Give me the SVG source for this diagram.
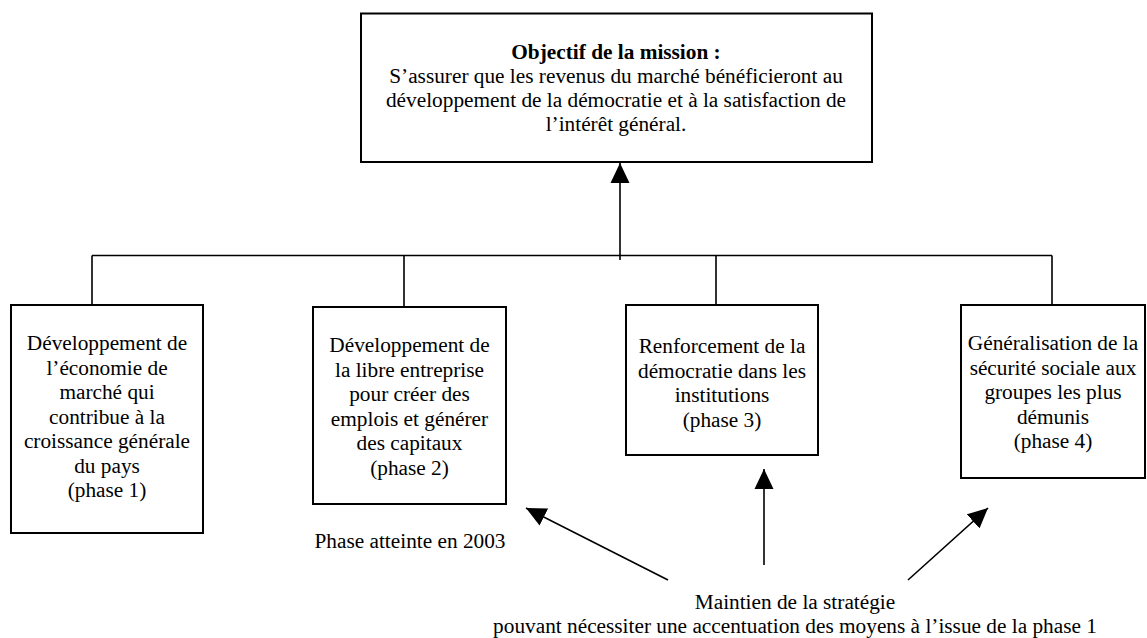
<svg xmlns="http://www.w3.org/2000/svg" width="1147" height="638" viewBox="0 0 1147 638">
<style>
.box{fill:#fff;stroke:#000;stroke-width:2}
.t{font-family:"Liberation Serif","Times New Roman",serif;font-size:21.3px;fill:#000;text-anchor:middle}
.b{font-weight:bold}
.ln{stroke:#000;stroke-width:1.6;fill:none}
.ar{stroke:#000;stroke-width:1.6;fill:none;marker-end:url(#ah)}
</style>
<defs>
<marker id="ah" markerUnits="userSpaceOnUse" markerWidth="20" markerHeight="20" viewBox="0 0 20 20" refX="20" refY="10" orient="auto">
<path d="M0,0.5 L20,10 L0,19.5 z" fill="#000"/>
</marker>
</defs>
<rect width="1147" height="638" fill="#fff"/>
<g id="connectors">
<path class="ln" d="M92,255.5 H1052 M92,255.5 V305 M404,255.5 V307 M716,255.5 V305 M1052,255.5 V305"/>
<line class="ar" x1="620" y1="260" x2="620" y2="163"/>
<line class="ar" x1="668" y1="580" x2="526" y2="508"/>
<line class="ar" x1="764" y1="565" x2="764" y2="469"/>
<line class="ar" x1="908" y1="580" x2="988" y2="508"/>
</g>
<g id="objectif">
<rect class="box" x="361" y="13.5" width="511" height="148.5"/>
<text class="t b" x="616" y="59">Objectif de la mission :</text>
<text class="t" x="616" y="83">S’assurer que les revenus du marché bénéficieront au</text>
<text class="t" x="616" y="107">développement de la démocratie et à la satisfaction de</text>
<text class="t" x="616" y="131">l’intérêt général.</text>
</g>
<g id="phase1">
<rect class="box" x="11" y="305" width="192" height="228"/>
<text class="t" x="107" y="350">Développement de</text>
<text class="t" x="107" y="374.5">l’économie de</text>
<text class="t" x="107" y="399">marché qui</text>
<text class="t" x="107" y="423.5">contribue à la</text>
<text class="t" x="107" y="448">croissance générale</text>
<text class="t" x="107" y="472.5">du pays</text>
<text class="t" x="107" y="497">(phase 1)</text>
</g>
<g id="phase2">
<rect class="box" x="313" y="307" width="193" height="197"/>
<text class="t" x="409.5" y="352">Développement de</text>
<text class="t" x="409.5" y="376.5">la libre entreprise</text>
<text class="t" x="409.5" y="401">pour créer des</text>
<text class="t" x="409.5" y="425.5">emplois et générer</text>
<text class="t" x="409.5" y="450">des capitaux</text>
<text class="t" x="409.5" y="474.5">(phase 2)</text>
</g>
<g id="phase3">
<rect class="box" x="626" y="305" width="192" height="150"/>
<text class="t" x="722" y="353">Renforcement de la</text>
<text class="t" x="722" y="377.5">démocratie dans les</text>
<text class="t" x="722" y="402">institutions</text>
<text class="t" x="722" y="426.5">(phase 3)</text>
</g>
<g id="phase4">
<rect class="box" x="961" y="305" width="184" height="173"/>
<text class="t" x="1053" y="350">Généralisation de la</text>
<text class="t" x="1053" y="374.5">sécurité sociale aux</text>
<text class="t" x="1053" y="399">groupes les plus</text>
<text class="t" x="1053" y="423.5">démunis</text>
<text class="t" x="1053" y="448">(phase 4)</text>
</g>
<g id="note-phase">
<text class="t" x="410" y="548">Phase atteinte en 2003</text>
</g>
<g id="strategie">
<text class="t" x="795" y="609">Maintien de la stratégie</text>
<text class="t" x="795" y="633">pouvant nécessiter une accentuation des moyens à l’issue de la phase 1</text>
</g>
</svg>
